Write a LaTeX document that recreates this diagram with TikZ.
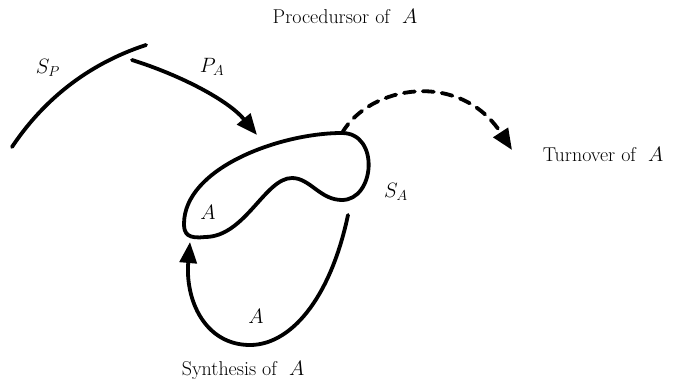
\documentclass[tikz,border=0pt]{standalone}
\usetikzlibrary{arrows.meta}
\begin{document}
\begin{tikzpicture}[x=1pt,y=-1pt, line width=3.8pt, line cap=round, line join=round,
  lbl/.style={font=\fontsize{20}{24}\selectfont, inner sep=0pt},
  arr/.style={-{Triangle[length=21pt,width=17pt]}},
  dsh/.style={dash pattern=on 11pt off 8pt}]
\useasboundingbox (0,0) rectangle (692,385);
% labels
\node[lbl] (proc) at (345,16) {Procedursor of \ $A$};
\node[lbl] (sp) at (48,68) {$S_P$};
\node[lbl] (pa) at (212,67) {$P_A$};
\node[lbl, anchor=west] (turn) at (541,154) {Turnover of \ $A$};
\node[lbl] (sa) at (396,192) {$S_A$};
\node[lbl] (ain) at (208,212) {$A$};
\node[lbl] (alow) at (256,316) {$A$};
\node[lbl] (synth) at (243,370) {Synthesis of \ $A$};
% coordinates
\coordinate (spa) at (12,147);
\coordinate (spb) at (146,45);
\coordinate (pas) at (132,60);
\coordinate (pat) at (257,135);
\coordinate (top) at (342,133);
\coordinate (tt) at (512,150);
\coordinate (ls) at (348,215);
\coordinate (lb) at (250,345);
\coordinate (lt) at (190,242);
\coordinate (bl) at (184,224);
\coordinate (rb) at (342,200);
\coordinate (bump) at (292,178);
\coordinate (lbot) at (205,237);
% S_P
\draw (spa) .. controls (50,90) and (100,60) .. (spb);
% P_A arrow
\draw[arr] (pas) .. controls (180,75) and (228,100) .. (pat);
% S_A blob
\draw (bl) .. controls (184,168) and (280,133) .. (top)
      .. controls (380,133) and (375,200) .. (rb)
      .. controls (320,200) and (310,178) .. (bump)
      .. controls (265,178) and (245,237) .. (lbot)
      .. controls (188,239) and (184,234) .. cycle;
% turnover dashed
\draw[arr, dsh] (top) .. controls (370,85) and (460,70) .. (tt);
% synthesis loop
\draw[arr] (ls) .. controls (330,300) and (290,345) .. (lb) .. controls (205,345) and (185,300) .. (lt);
\end{tikzpicture}
\end{document}
